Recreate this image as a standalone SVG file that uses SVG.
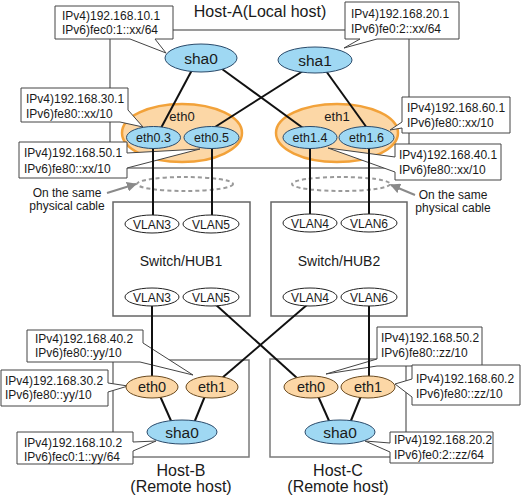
<svg xmlns="http://www.w3.org/2000/svg" width="521" height="498" viewBox="0 0 521 498">
<defs>
<style>
text{font-family:"Liberation Sans",Arial,sans-serif;fill:#1a1a1a}
.lbl{font-size:12px}
.box{fill:none;stroke:#7a7a7a;stroke-width:1.5}
.sw{fill:none;stroke:#666;stroke-width:1.5}
.co{fill:#fff;stroke:#444;stroke-width:1}
.big{fill:#fcd7a6;stroke:#f2a23a;stroke-width:2.5}
.blue{fill:#9fd8f3;stroke:#2a4a6a;stroke-width:1}
.org{fill:#fcd7a6;stroke:#6a4a20;stroke-width:1}
.vlan{fill:#fff;stroke:#222;stroke-width:1}
.cn{stroke:#111;stroke-width:2;fill:none}
.dash{fill:none;stroke:#9a9a9a;stroke-width:2;stroke-dasharray:4 3}
.arr{stroke:#8a8a8a;stroke-width:2;fill:none;marker-end:url(#ah)}
.c{text-anchor:middle}
</style>
<marker id="ah" viewBox="0 0 10 10" refX="9" refY="5" markerWidth="5" markerHeight="5" orient="auto" markerUnits="strokeWidth">
<path d="M0,0 L10,5 L0,10 Z" fill="#8a8a8a"/>
</marker>
</defs>

<g id="host-a">
<rect class="box" x="110" y="30" width="299" height="138"/>
<text x="260" y="17" class="c" font-size="16">Host-A(Local host)</text>
</g>
<g id="hub1">
<rect class="sw" x="113" y="202" width="137" height="114"/>
<text x="181" y="266" class="c" font-size="14">Switch/HUB1</text>
</g>
<g id="hub2">
<rect class="sw" x="271" y="202" width="136" height="114"/>
<text x="339" y="266" class="c" font-size="14">Switch/HUB2</text>
</g>
<g id="host-b">
<rect class="box" x="113" y="360" width="136" height="97"/>
<text x="181" y="476" class="c" font-size="16">Host-B</text>
<text x="181" y="492" class="c" font-size="16">(Remote host)</text>
</g>
<g id="host-c">
<rect class="box" x="270" y="359" width="136" height="98"/>
<text x="338" y="476" class="c" font-size="16">Host-C</text>
<text x="338" y="492" class="c" font-size="16">(Remote host)</text>
</g>

<g id="eth0-a">
<ellipse class="big" cx="182" cy="133" rx="60" ry="29"/>
<text x="182" y="121" class="c" font-size="13">eth0</text>
</g>
<g id="eth1-a">
<ellipse class="big" cx="337" cy="133" rx="61" ry="29"/>
<text x="337" y="121" class="c" font-size="13">eth1</text>
</g>

<g id="cables">
<ellipse class="dash" cx="185" cy="184" rx="48" ry="7"/>
<ellipse class="dash" cx="341" cy="184" rx="49" ry="7"/>
<line class="arr" x1="107" y1="193" x2="136" y2="184"/>
<line class="arr" x1="415" y1="195" x2="391" y2="185"/>
<text x="67" y="197" class="c lbl">On the same</text>
<text x="67" y="210" class="c lbl">physical cable</text>
<text x="453" y="199" class="c lbl">On the same</text>
<text x="453" y="212" class="c lbl">physical cable</text>
</g>

<g id="callouts">
<path class="co" d="M55,6 H173 V39 H155 L166,53 L130,39 H55 Z"/>
<text class="lbl" x="62" y="20">IPv4)192.168.10.1</text>
<text class="lbl" x="62" y="34">IPv6)fec0:1::xx/64</text>
<path class="co" d="M345,2 H459 V39 H377 L344,48 L360,39 H345 Z"/>
<text class="lbl" x="351" y="18">IPv4)192.168.20.1</text>
<text class="lbl" x="351" y="33">IPv6)fe0:2::xx/64</text>
<path class="co" d="M21,88 H128 V110 L143,127 L120,122 H21 Z"/>
<text class="lbl" x="26" y="103">IPv4)192.168.30.1</text>
<text class="lbl" x="26" y="118">IPv6)fe80::xx/10</text>
<path class="co" d="M19,142 H127 V153 L200,149 L127,168 V178 H19 Z"/>
<text class="lbl" x="24" y="157">IPv4)192.168.50.1</text>
<text class="lbl" x="24" y="173">IPv6)fe80::xx/10</text>
<path class="co" d="M402,97 H510 V133 H402 V128 L390,130 L402,122 Z"/>
<text class="lbl" x="407" y="112">IPv4)192.168.60.1</text>
<text class="lbl" x="407" y="127">IPv6)fe80::xx/10</text>
<path class="co" d="M395,144 H501 V180 H395 V172 L328,148 L395,157 Z"/>
<text class="lbl" x="399" y="159">IPv4)192.168.40.1</text>
<text class="lbl" x="399" y="174">IPv6)fe80::xx/10</text>
<path class="co" d="M27,330 H143 V343 L193,375 L140,362 H27 Z"/>
<text class="lbl" x="35" y="343">IPv4)192.168.40.2</text>
<text class="lbl" x="35" y="357">IPv6)fe80::yy/10</text>
<path class="co" d="M1,370 H108 V383 L128,386 L108,392 V406 H1 Z"/>
<text class="lbl" x="5" y="385">IPv4)192.168.30.2</text>
<text class="lbl" x="5" y="399">IPv6)fe80::yy/10</text>
<path class="co" d="M17,432 H133 V442 L156,441 L133,451 V464 H17 Z"/>
<text class="lbl" x="24" y="447">IPv4)192.168.10.2</text>
<text class="lbl" x="24" y="461">IPv6)fec0:1::yy/64</text>
<path class="co" d="M377,327 H482 V366 H377 L326,374 L377,359 Z"/>
<text class="lbl" x="381" y="342">IPv4)192.168.50.2</text>
<text class="lbl" x="381" y="357">IPv6)fe80::zz/10</text>
<path class="co" d="M412,365 H520 V405 H412 V397 L395,384 L412,379 Z"/>
<text class="lbl" x="416" y="383">IPv4)192.168.60.2</text>
<text class="lbl" x="416" y="398">IPv6)fe80::zz/10</text>
<path class="co" d="M390,432 H493 V463 H390 V452 L365,441 L390,443 Z"/>
<text class="lbl" x="394" y="444">IPv4)192.168.20.2</text>
<text class="lbl" x="394" y="459">IPv6)fe0:2::zz/64</text>
</g>

<g id="connectors">
<line class="cn" x1="192" y1="70" x2="161" y2="128"/>
<line class="cn" x1="222" y1="69" x2="303" y2="128"/>
<line class="cn" x1="303" y1="71" x2="215" y2="127"/>
<line class="cn" x1="326" y1="71" x2="367" y2="128"/>
<line class="cn" x1="153" y1="146" x2="153" y2="216"/>
<line class="cn" x1="212" y1="146" x2="212" y2="216"/>
<line class="cn" x1="310" y1="146" x2="310" y2="216"/>
<line class="cn" x1="369" y1="146" x2="369" y2="216"/>
<line class="cn" x1="152" y1="304" x2="152" y2="378"/>
<line class="cn" x1="215" y1="304" x2="297" y2="378"/>
<line class="cn" x1="308" y1="304" x2="222" y2="378"/>
<line class="cn" x1="369" y1="304" x2="369" y2="378"/>
<line class="cn" x1="160" y1="396" x2="172" y2="423"/>
<line class="cn" x1="205" y1="396" x2="194" y2="423"/>
<line class="cn" x1="318" y1="396" x2="330" y2="423"/>
<line class="cn" x1="361" y1="396" x2="350" y2="423"/>
</g>

<g id="sha0-a"><ellipse class="blue" cx="201" cy="58" rx="36" ry="14"/><text x="201" y="64" class="c" font-size="15.5">sha0</text></g>
<g id="sha1-a"><ellipse class="blue" cx="315" cy="60" rx="37" ry="13"/><text x="315" y="66" class="c" font-size="15.5">sha1</text></g>
<g id="eth0-3"><ellipse class="blue" cx="153.5" cy="137.5" rx="27" ry="11"/><text x="153.5" y="142" class="c" font-size="12.5">eth0.3</text></g>
<g id="eth0-5"><ellipse class="blue" cx="211.5" cy="137.5" rx="27.5" ry="11"/><text x="211.5" y="142" class="c" font-size="12.5">eth0.5</text></g>
<g id="eth1-4"><ellipse class="blue" cx="310" cy="137.5" rx="27" ry="11"/><text x="310" y="142" class="c" font-size="12.5">eth1.4</text></g>
<g id="eth1-6"><ellipse class="blue" cx="366.5" cy="137.5" rx="27.5" ry="11"/><text x="366.5" y="142" class="c" font-size="12.5">eth1.6</text></g>

<g id="vlan3-t"><ellipse class="vlan" cx="152" cy="224" rx="27" ry="9"/><text x="152" y="228.5" class="c lbl">VLAN3</text></g>
<g id="vlan5-t"><ellipse class="vlan" cx="211" cy="224" rx="28" ry="9"/><text x="211" y="228.5" class="c lbl">VLAN5</text></g>
<g id="vlan3-b"><ellipse class="vlan" cx="152" cy="297" rx="27" ry="9"/><text x="152" y="301.5" class="c lbl">VLAN3</text></g>
<g id="vlan5-b"><ellipse class="vlan" cx="211" cy="297" rx="28" ry="9"/><text x="211" y="301.5" class="c lbl">VLAN5</text></g>
<g id="vlan4-t"><ellipse class="vlan" cx="310" cy="223" rx="27" ry="9"/><text x="310" y="227.5" class="c lbl">VLAN4</text></g>
<g id="vlan6-t"><ellipse class="vlan" cx="369" cy="223" rx="28" ry="9"/><text x="369" y="227.5" class="c lbl">VLAN6</text></g>
<g id="vlan4-b"><ellipse class="vlan" cx="310" cy="297" rx="27" ry="9"/><text x="310" y="301.5" class="c lbl">VLAN4</text></g>
<g id="vlan6-b"><ellipse class="vlan" cx="369" cy="297" rx="28" ry="9"/><text x="369" y="301.5" class="c lbl">VLAN6</text></g>

<g id="eth0-b"><ellipse class="org" cx="152" cy="387" rx="26" ry="11"/><text x="152" y="392" class="c" font-size="14.5">eth0</text></g>
<g id="eth1-b"><ellipse class="org" cx="212" cy="387" rx="26" ry="11"/><text x="212" y="392" class="c" font-size="14.5">eth1</text></g>
<g id="sha0-b"><ellipse class="blue" cx="182" cy="432" rx="35" ry="12"/><text x="182" y="437.5" class="c" font-size="15.5">sha0</text></g>
<g id="eth0-c"><ellipse class="org" cx="311" cy="387" rx="27" ry="11"/><text x="311" y="392" class="c" font-size="14.5">eth0</text></g>
<g id="eth1-c"><ellipse class="org" cx="368" cy="387" rx="27" ry="11"/><text x="368" y="392" class="c" font-size="14.5">eth1</text></g>
<g id="sha0-c"><ellipse class="blue" cx="340" cy="432" rx="35" ry="12"/><text x="340" y="437.5" class="c" font-size="15.5">sha0</text></g>
</svg>
